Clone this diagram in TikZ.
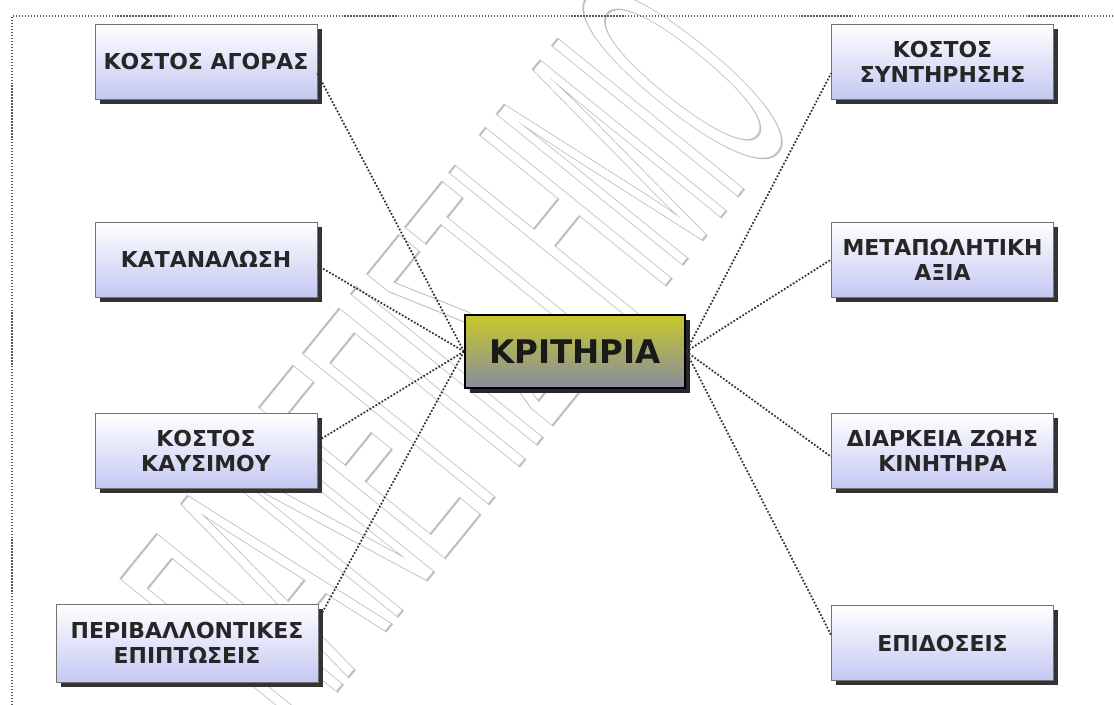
\documentclass[tikz,border=0pt]{standalone}
\usepackage{fontspec}
\setmainfont{DejaVu Sans}
\newfontfamily\wmfont{Liberation Sans}
\usetikzlibrary{shadows}
\definecolor{lavend}{RGB}{196,200,242}
\definecolor{olivetop}{RGB}{200,200,42}
\definecolor{olivemid}{RGB}{152,152,72}
\definecolor{slatebot}{RGB}{134,140,160}
\newcommand{\outlinetext}[1]{\special{pdf:literal direct 1 Tr 1.2 w}#1\special{pdf:literal direct 0 Tr}}
\begin{document}
\begin{tikzpicture}[x=0.02cm, y=-0.02cm,
  crit/.style={draw=black!55, top color=white, bottom color=lavend,
    minimum width=4.44cm, minimum height=1.5cm, inner sep=2pt, align=center,
    font=\fontsize{12.5}{14.2}\selectfont\bfseries, text=black!85,
    drop shadow={shadow xshift=2.6pt, shadow yshift=-2.6pt, fill=black!80, opacity=1}},
  hub/.style={draw=black, line width=1.2pt, top color=olivetop, middle color=olivemid,
    bottom color=slatebot, minimum width=4.4cm, minimum height=1.46cm,
    font=\fontsize{18.5}{20}\selectfont\bfseries, text=black!90,
    drop shadow={shadow xshift=3pt, shadow yshift=-3pt, fill=black!85, opacity=1}},
  link/.style={black!80, line width=1pt, densely dotted},
  frame/.style={black!65, densely dotted, line width=0.7pt}]
\useasboundingbox (0,0) rectangle (1114,705);
\fill[white] (0,0) rectangle (1114,705);
% stamp in the background
\node[text=black!25, font=\wmfont\fontsize{198}{200}\selectfont, rotate=51, xscale=0.3]
  (stamp) at (458,352) {\outlinetext{ΠΑΝΕΠΙΣΤΗΜΙΟ}};
\draw[frame] (12,705) -- (12,16) -- (1114,16);
% left column
\foreach \nm/\y/\txt in {agora/61.5/ΚΟΣΤΟΣ ΑΓΟΡΑΣ, katan/259.5/ΚΑΤΑΝΑΛΩΣΗ, kaus/451/{ΚΟΣΤΟΣ\\ΚΑΥΣΙΜΟΥ}}
  \node[crit] (\nm) at (206,\y) {\txt};
\node[crit, minimum width=5.24cm, minimum height=1.56cm] (perib) at (187,643) {ΠΕΡΙΒΑΛΛΟΝΤΙΚΕΣ\\ΕΠΙΠΤΩΣΕΙΣ};
% right column
\foreach \nm/\y/\txt in {synt/61.5/{ΚΟΣΤΟΣ\\ΣΥΝΤΗΡΗΣΗΣ}, metap/259.5/{ΜΕΤΑΠΩΛΗΤΙΚΗ\\ΑΞΙΑ},
  diark/451/{ΔΙΑΡΚΕΙΑ ΖΩΗΣ\\ΚΙΝΗΤΗΡΑ}, epid/643/ΕΠΙΔΟΣΕΙΣ}
  \node[crit] (\nm) at (942.5,\y) {\txt};
\node[hub] (krit) at (575,351.5) {ΚΡΙΤΗΡΙΑ};
% connectors
\foreach \b/\a in {agora/-6, katan/-3, kaus/5, perib/10}
  \draw[link] (krit.west) -- (\b.\a);
\foreach \b/\a in {synt/186, metap/180, diark/183, epid/176}
  \draw[link] (krit.east) -- (\b.\a);
\end{tikzpicture}
\end{document}
